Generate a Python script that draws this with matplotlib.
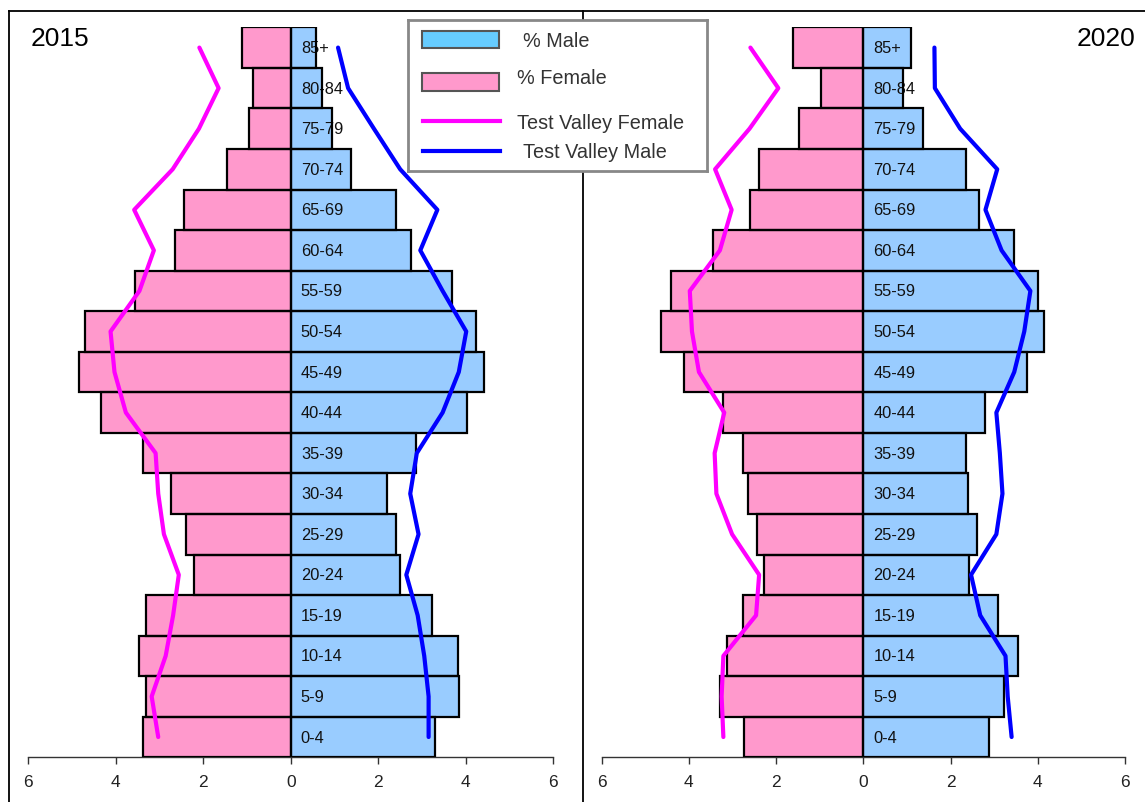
import matplotlib
matplotlib.use("Agg")
import matplotlib.pyplot as plt
from matplotlib.patches import Rectangle
from matplotlib.lines import Line2D

plt.rcParams['font.family'] = ['Liberation Sans', 'DejaVu Sans']

# ---------------- data (bottom to top) ----------------
ages = ["0-4", "5-9", "10-14", "15-19", "20-24", "25-29", "30-34", "35-39", "40-44",
        "45-49", "50-54", "55-59", "60-64", "65-69", "70-74", "75-79", "80-84", "85+"]

female_2015 = [3.38, 3.31, 3.48, 3.30, 2.21, 2.39, 2.74, 3.38, 4.34,
               4.84, 4.71, 3.57, 2.64, 2.44, 1.46, 0.95, 0.86, 1.12]
male_2015 = [3.30, 3.84, 3.82, 3.22, 2.50, 2.40, 2.20, 2.87, 4.03,
             4.41, 4.23, 3.68, 2.75, 2.40, 1.38, 0.94, 0.71, 0.58]
tv_female_2015 = [3.03, 3.18, 2.86, 2.69, 2.56, 2.90, 3.03, 3.09, 3.77,
                  4.03, 4.12, 3.46, 3.13, 3.58, 2.70, 2.10, 1.65, 2.09]
tv_male_2015 = [3.15, 3.15, 3.05, 2.90, 2.64, 2.92, 2.73, 2.88, 3.47,
                3.84, 4.01, 3.47, 2.96, 3.35, 2.50, 1.90, 1.31, 1.08]

female_2020 = [2.74, 3.29, 3.13, 2.76, 2.28, 2.45, 2.65, 2.76, 3.21,
               4.12, 4.63, 4.42, 3.45, 2.60, 2.40, 1.48, 0.97, 1.61]
male_2020 = [2.88, 3.22, 3.55, 3.09, 2.43, 2.61, 2.40, 2.35, 2.79,
             3.75, 4.15, 4.01, 3.45, 2.65, 2.35, 1.36, 0.92, 1.09]
tv_female_2020 = [3.21, 3.25, 3.21, 2.46, 2.39, 3.01, 3.37, 3.41, 3.19,
                  3.77, 3.93, 3.98, 3.29, 3.02, 3.40, 2.61, 1.95, 2.59]
tv_male_2020 = [3.40, 3.31, 3.26, 2.68, 2.47, 3.05, 3.19, 3.13, 3.05,
                3.46, 3.69, 3.83, 3.17, 2.80, 3.07, 2.22, 1.64, 1.63]

x_ticks = [-6, -4, -2, 0, 2, 4, 6]
x_tick_labels = ["6", "4", "2", "0", "2", "4", "6"]

FEMALE_C = "#FF99CC"
MALE_C = "#99CCFF"
LEG_MALE_C = "#66CCFF"
TV_FEMALE_C = "#FF00FF"
TV_MALE_C = "#0000FF"

W, H = 1145, 803
fig = plt.figure(figsize=(W / 100, H / 100), dpi=100)


def fx(px):
    return px / W


def fy(py):
    return 1 - py / H


def panel(x0, x1, female, male, tvf, tvm, year, year_x, year_ha):
    top, bottom = 28.3, 758.3
    ax = fig.add_axes([fx(x0), fy(bottom), fx(x1) - fx(x0), (bottom - top) / H])
    y = list(range(len(ages)))
    neg_f = [-v for v in female]
    ax.barh(y, neg_f, height=1.0, color=FEMALE_C, edgecolor='none', zorder=1)
    ax.barh(y, male, height=1.0, color=MALE_C, edgecolor='none', zorder=1)
    for yi, lab in zip(y, ages):
        ax.text(0.23, yi, lab, ha='left', va='center', fontsize=11.8,
                color='#111111', zorder=2)
    ax.barh(y, neg_f, height=1.0, fill=False, edgecolor='black', linewidth=1.6, zorder=3)
    ax.barh(y, male, height=1.0, fill=False, edgecolor='black', linewidth=1.6, zorder=3)
    ax.plot([-v for v in tvf], y, color=TV_FEMALE_C, linewidth=3.0, zorder=4,
            solid_capstyle='round', solid_joinstyle='round')
    ax.plot(tvm, y, color=TV_MALE_C, linewidth=3.0, zorder=4,
            solid_capstyle='round', solid_joinstyle='round')
    ax.set_xlim(-6, 6)
    ax.set_ylim(-0.5, len(ages) - 0.5)
    for s in ['left', 'right', 'top']:
        ax.spines[s].set_visible(False)
    ax.spines['bottom'].set_color('#333333')
    ax.spines['bottom'].set_linewidth(1.0)
    ax.set_yticks([])
    ax.set_xticks(x_ticks)
    ax.set_xticklabels(x_tick_labels)
    ax.tick_params(axis='x', direction='out', length=5, width=1.0, color='#333333',
                   labelsize=12.5, labelcolor='#222222', pad=7)
    ax.patch.set_alpha(0)
    fig.text(fx(year_x), fy(38.5), year, ha=year_ha, va='center', fontsize=19,
             color='black')
    return ax


panel(28.3, 553.3, female_2015, male_2015, tv_female_2015, tv_male_2015,
      "2015", 30.3, 'left')
panel(601.7, 1125.0, female_2020, male_2020, tv_female_2020, tv_male_2020,
      "2020", 1135.5, 'right')

# frame lines
fig.add_artist(Line2D([fx(9), 1], [fy(12), fy(12)], color='black', linewidth=1.3))
fig.add_artist(Line2D([fx(9), fx(9)], [0, fy(12)], color='black', linewidth=1.3))
fig.add_artist(Line2D([fx(583), fx(583)], [0, fy(12)], color='black', linewidth=1.3))

# legend box
lx0, lx1, ly0, ly1 = 408.3, 706.7, 21.0, 171.7
lax = fig.add_axes([fx(lx0), fy(ly1), (lx1 - lx0) / W, (ly1 - ly0) / H], zorder=10)
lax.set_xlim(lx0, lx1)
lax.set_ylim(ly1, ly0)
lax.set_xticks([])
lax.set_yticks([])
lax.patch.set_facecolor('white')
for s in lax.spines.values():
    s.set_color('#888888')
    s.set_linewidth(2.0)

lax.add_patch(Rectangle((422, 32.3), 77.3, 17.0, facecolor=LEG_MALE_C,
                        edgecolor='#555555', linewidth=1.5))
lax.add_patch(Rectangle((422, 74.3), 77.3, 18.0, facecolor=FEMALE_C,
                        edgecolor='#555555', linewidth=1.5))
lax.plot([423, 500], [122.3, 122.3], color=TV_FEMALE_C, linewidth=3.0)
lax.plot([423, 500], [151.7, 151.7], color=TV_MALE_C, linewidth=3.0)
leg_kw = dict(ha='left', va='center', fontsize=14.3, color='#333333')
lax.text(522.7, 41.7, "% Male", **leg_kw)
lax.text(517.3, 78.3, "% Female", **leg_kw)
lax.text(517.3, 123.3, "Test Valley Female", **leg_kw)
lax.text(523.3, 152.5, "Test Valley Male", **leg_kw)

fig.savefig("out.png", dpi=100)
